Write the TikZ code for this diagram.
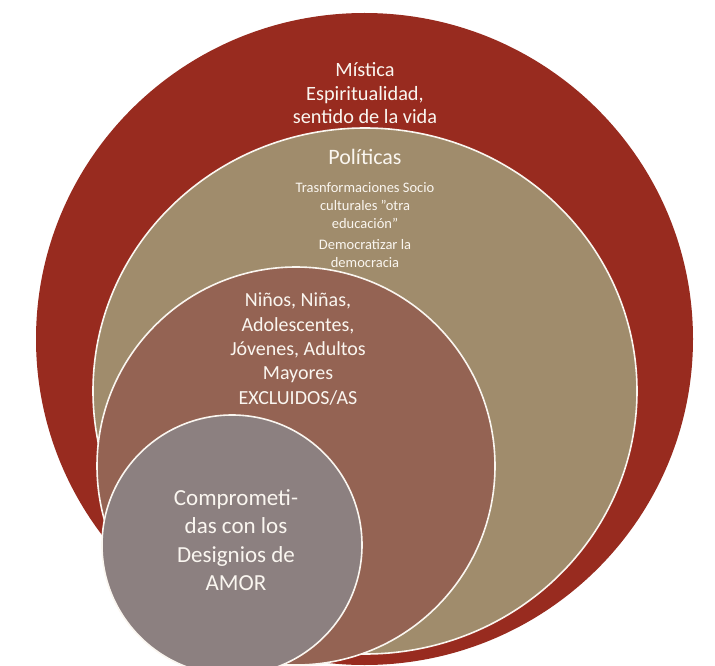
\documentclass[tikz,border=0pt]{standalone}
\usepackage{fontspec}
\usetikzlibrary{shapes.geometric}
\setmainfont{Carlito}
\definecolor{ringred}{RGB}{152,43,31}
\definecolor{ringbeige}{RGB}{160,140,108}
\definecolor{ringbrown}{RGB}{148,99,83}
\definecolor{ringgrey}{RGB}{140,128,128}
\definecolor{txt}{RGB}{250,246,240}
\begin{document}
\begin{tikzpicture}[x=1pt,y=-1pt,
  ring/.style={circle,inner sep=0pt,outer sep=0pt,minimum size=#1},
  oval/.style 2 args={ellipse,inner sep=0pt,outer sep=0pt,minimum width=#1,minimum height=#2},
  edge/.style={draw=txt,line width=1.6pt},
  lbl/.style={text=txt,align=center,inner sep=0pt}]
\useasboundingbox (0,0) rectangle (715,666);
\begin{scope}
\clip (0,0) rectangle (715,666);
\node[oval={657pt}{652pt},fill=ringred] (red) at (364.5,339) {};
\node[oval={544pt}{526pt},fill=ringbeige,edge] (beige) at (365,391) {};
\node[ring=398pt,fill=ringbrown,edge] (brown) at (296,466) {};
\node[ring=260pt,fill=ringgrey,edge] (grey) at (232,545) {};
\end{scope}
\node[lbl,font=\fontsize{20.3}{23.5}\selectfont] (mistica) at (365,93.5) {Mística\\Espiritualidad,\\sentido de la vida};
\node[lbl,font=\fontsize{22}{26}\selectfont] (politicas) at (365,157) {Políticas};
\node[lbl,font=\fontsize{14.5}{18}\selectfont] (trans) at (365,206) {Trasnformaciones Socio\\culturales ”otra\\educación”};
\node[lbl,font=\fontsize{14.5}{18}\selectfont] (demo) at (365,254) {Democratizar la\\democracia};
\node[lbl,font=\fontsize{20}{24.3}\selectfont] (ninos) at (298,349) {Niños, Niñas,\\Adolescentes,\\Jóvenes, Adultos\\Mayores\\EXCLUIDOS/AS};
\node[lbl,font=\fontsize{23}{28.5}\selectfont] (compro) at (236,540) {Comprometi-\\das con los\\Designios de\\AMOR};
\end{tikzpicture}
\end{document}
